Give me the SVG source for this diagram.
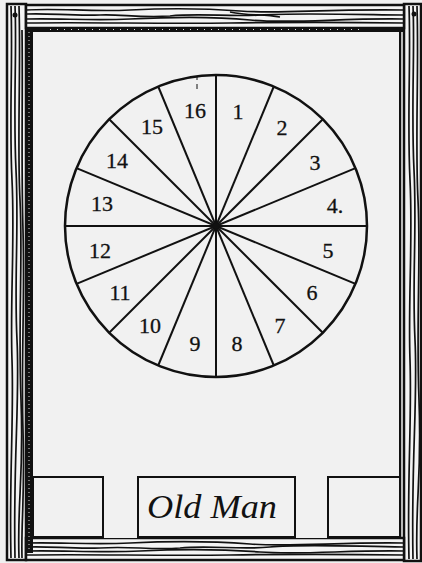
<svg xmlns="http://www.w3.org/2000/svg" width="422" height="563" viewBox="0 0 422 563">
<style>
.grain{fill:none;stroke:#111;stroke-width:1.7}
.spoke{stroke:#111;stroke-width:2;fill:none}
.num{font-family:"Liberation Serif",serif;font-size:22px;fill:#111;text-anchor:middle;dominant-baseline:central;stroke:#111;stroke-width:0.3}
.box{fill:#f1f1f1;stroke:#111;stroke-width:2}
</style>
<rect x="0" y="0" width="422" height="563" fill="#f0f0f0"/>
<g id="frame">
<rect x="7" y="4" width="19" height="556" fill="#f4f4f4" stroke="#111" stroke-width="2.5"/>
<rect x="404" y="4" width="17" height="557" fill="#f4f4f4" stroke="#111" stroke-width="2.5"/>
<rect x="26" y="5" width="378" height="23" fill="#f4f4f4" stroke="#111" stroke-width="2.5"/>
<rect x="26" y="538" width="378" height="22" fill="#f4f4f4" stroke="#111" stroke-width="2.5"/>
<path class="grain" d="M27,10 C60,8 90,12 130,10 S200,8 240,11 S320,9 403,10"/>
<path class="grain" d="M27,14 C50,13 70,16 100,15 C120,14 140,18 170,16 C200,13 230,17 260,15 S330,14 403,15"/>
<path class="grain" d="M27,19 C60,18 90,21 130,19 S210,16 250,20 S340,18 403,19"/>
<path class="grain" d="M27,23 C90,22 160,24 230,23 S330,22 403,23"/>
<path class="grain" d="M230,12 C250,16 262,14 280,17"/>
<path class="grain" d="M27,543 C60,542 90,545 130,543 S210,541 250,544 S340,542 403,543"/>
<path class="grain" d="M27,547 C50,546 70,549 100,548 C130,546 150,550 180,548 C210,545 240,550 270,547 S340,546 403,547"/>
<path class="grain" d="M27,551 C60,550 100,553 140,551 S220,549 260,552 S350,550 403,551"/>
<path class="grain" d="M27,555 C90,554 160,556 230,555 S330,554 403,555"/>
<path class="grain" d="M11,6 C13,60 9,120 12,180 S10,300 12,360 S9,480 11,558"/>
<path class="grain" d="M15,6 C17,50 13,110 16,170 S14,280 17,340 S13,460 15,558"/>
<path class="grain" d="M19,6 C21,70 17,140 20,200 S18,320 21,400 S17,500 19,558"/>
<path class="grain" d="M22,30 C23,90 21,160 23,230 S21,360 23,430 S21,520 22,558"/>
<path class="grain" d="M409,6 C411,60 407,120 410,180 S408,300 410,360 S407,480 409,559"/>
<path class="grain" d="M413,6 C415,50 411,110 414,170 S412,280 415,340 S411,460 413,559"/>
<path class="grain" d="M417,6 C419,70 415,140 418,200 S416,320 419,400 S415,500 417,559"/>
<circle cx="15" cy="15" r="2.5" fill="#111"/>
<circle cx="414" cy="14" r="2.5" fill="#111"/>
<rect x="25" y="27" width="378" height="5" fill="#111"/>
<rect x="25" y="27" width="8" height="526" fill="#111"/>
<line x1="29" y1="32" x2="29" y2="550" stroke="#ddd" stroke-width="1" stroke-dasharray="1 3"/>
<line x1="50" y1="29.5" x2="360" y2="29.5" stroke="#ddd" stroke-width="1" stroke-dasharray="1 6"/>
<line x1="400" y1="30" x2="400" y2="538" stroke="#111" stroke-width="2.5"/>
</g>
<g id="panel">
<rect x="33" y="32" width="366" height="506" fill="#f1f1f1"/>
</g>
<g id="wheel">
<circle cx="216" cy="226" r="151" fill="#f1f1f1" stroke="#111" stroke-width="2.5"/>
</g>
<g id="connectors">
<line class="spoke" x1="216" y1="75" x2="216" y2="377"/>
<line class="spoke" x1="273.8" y1="86.5" x2="158.2" y2="365.5"/>
<line class="spoke" x1="322.8" y1="119.2" x2="109.2" y2="332.8"/>
<line class="spoke" x1="355.5" y1="168.2" x2="76.5" y2="283.8"/>
<line class="spoke" x1="367" y1="226" x2="65" y2="226"/>
<line class="spoke" x1="355.5" y1="283.8" x2="76.5" y2="168.2"/>
<line class="spoke" x1="322.8" y1="332.8" x2="109.2" y2="119.2"/>
<line class="spoke" x1="273.8" y1="365.5" x2="158.2" y2="86.5"/>
<circle cx="216" cy="226" r="3" fill="#111"/>
<line x1="197" y1="76" x2="197" y2="80" stroke="#111" stroke-width="1"/>
<line x1="197" y1="84" x2="197" y2="89" stroke="#111" stroke-width="1"/>
</g>
<g id="labels">
<text class="num" x="238" y="111">1</text>
<text class="num" x="282" y="127">2</text>
<text class="num" x="315" y="162">3</text>
<text class="num" x="335" y="205">4.</text>
<text class="num" x="328" y="250">5</text>
<text class="num" x="312" y="292">6</text>
<text class="num" x="280" y="325">7</text>
<text class="num" x="237" y="343">8</text>
<text class="num" x="195" y="343">9</text>
<text class="num" x="150" y="325">10</text>
<text class="num" x="120" y="292">11</text>
<text class="num" x="100" y="250">12</text>
<text class="num" x="102" y="203">13</text>
<text class="num" x="117" y="160">14</text>
<text class="num" x="152" y="126">15</text>
<text class="num" x="195" y="110">16</text>
</g>
<g id="box-left">
<rect class="box" x="33" y="477" width="70" height="60"/>
</g>
<g id="box-old-man">
<rect class="box" x="138" y="477" width="157" height="60"/>
<text x="147" y="518" font-family="Liberation Serif, serif" font-style="italic" font-size="34" fill="#111" textLength="130" lengthAdjust="spacingAndGlyphs">Old Man</text>
</g>
<g id="box-right">
<rect class="box" x="328" y="477" width="72" height="60"/>
</g>
</svg>
